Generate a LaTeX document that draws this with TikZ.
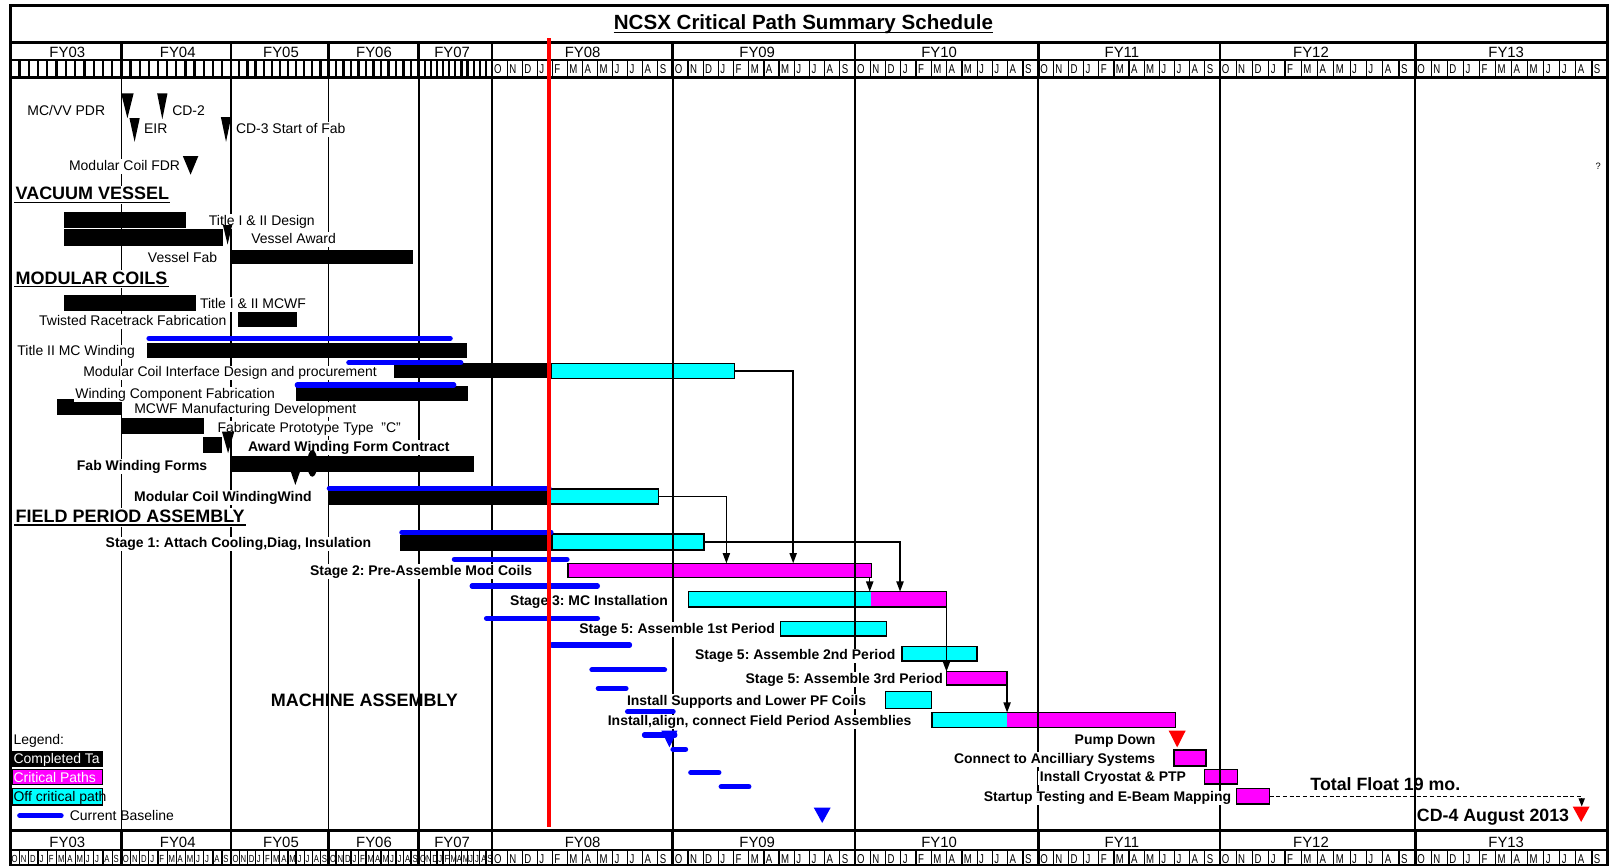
\documentclass[tikz,border=0pt]{standalone}
\usepackage{fontspec}
\setmainfont{Liberation Sans}
\newfontfamily\mfont[FakeStretch=0.75]{Liberation Sans}
\usetikzlibrary{arrows.meta,calc}
\definecolor{cy}{RGB}{0,255,255}
\definecolor{mg}{RGB}{255,0,255}
\definecolor{bl}{RGB}{0,0,255}
\definecolor{rd}{RGB}{255,0,0}
\frenchspacing
\newcommand\fs[1]{\fontsize{#1}{#1}\selectfont}
\newcommand\gbar[6]{\node[#2, anchor=north west, minimum width={(#5-#3)*1pt}, minimum height={(#6-#4)*1pt}] (#1) at (#3,#4) {};}
\newcommand\mstone[5]{\fill[#5] (#1,#3) -- (#2,#3) -- ({(#1+#2)/2},#4) -- cycle;}
\newcommand\bline[3]{\draw[baseln] (#1,#3) -- (#2,#3);}
\begin{document}
\begin{tikzpicture}[x=1pt,y=-1pt,
 blk/.style={fill=black, draw=none, inner sep=0pt, outer sep=0pt},
 cyf/.style={fill=cy, draw=none, inner sep=0pt, outer sep=0pt},
 cyb/.style={fill=cy, draw=black, line width=1.5pt, inner sep=0pt, outer sep=0pt},
 mgb/.style={fill=mg, draw=black, line width=1.5pt, inner sep=0pt, outer sep=0pt},
 lgb/.style={draw=black, line width=1pt, inner sep=0pt, outer sep=0pt},
 lab/.style={fill=white, inner xsep=1.5pt, inner ysep=1pt, text height=9.8pt, text depth=2.5pt, font=\fs{13.6}},
 blab/.style={lab, font=\fs{13.6}\bfseries},
 sect/.style={fill=white, inner sep=1pt, text height=12.6pt, text depth=3pt, font=\fs{17.5}\bfseries, anchor=base west},
 baseln/.style={bl, line width=5pt, line cap=round, shorten <=2.5pt, shorten >=2.5pt},
 gline/.style={line width=1.8pt},
 hline/.style={line width=2.5pt},
 ysepl/.style={line width=2.5pt},
 msep/.style={line width=1.2pt},
 tsep/.style={line width=2.2pt},
 fylab/.style={font=\fs{14.5}, inner sep=0pt, anchor=base},
 mlet/.style={font=\mfont\fs{12.5}, inner sep=0pt, anchor=base west},
 slet/.style={font=\mfont\fs{10}, inner sep=0pt, anchor=base west},
 conn/.style={line width=1.5pt, -{Triangle[length=10pt,width=7pt]}},
 dconn/.style={line width=1.2pt, dash pattern=on 4pt off 2.5pt, -{Triangle[length=8pt,width=6pt]}},
 big/.style={font=\fs{17.3}\bfseries, inner sep=0pt}
]
\useasboundingbox (0,0) rectangle (1568,842);
\fill[white] (0,0) rectangle (1568,842);

% ---------------- bars ----------------
\gbar{vv1}{blk}{62.6}{206}{180.7}{222}
\gbar{vv2}{blk}{62.6}{223}{217}{239}
\gbar{vv3}{blk}{224}{243}{401.5}{257}
\gbar{mc1}{blk}{62.6}{287}{190.5}{302.4}
\gbar{mc2}{blk}{232}{303.4}{289}{318.6}
\gbar{mc3}{blk}{143}{334}{455}{348.8}
\gbar{mc4}{blk}{383}{353.6}{535.5}{368.2}
\gbar{mc4c}{cyb}{536.7}{353.6}{715}{368.2}
\gbar{mc5}{blk}{287.8}{375.7}{455.4}{390}
\gbar{mc6}{blk}{55}{388.7}{118.9}{404}
\gbar{mc7}{blk}{117.5}{407}{198.8}{422.4}
\gbar{mc8}{blk}{197.5}{425}{216.2}{440.6}
\gbar{mc9}{blk}{224}{443.8}{461.6}{459}
\gbar{mc10}{blk}{319}{477.5}{535.5}{491.5}
\gbar{mc10c}{cyb}{536}{476}{641}{490.6}
\gbar{fp1}{blk}{389}{520.5}{535.5}{536}
\gbar{fp1c}{cyb}{537}{519.7}{685}{535.3}
\gbar{fp2}{mgb}{552.7}{548.3}{848.2}{561.9}
\gbar{fp3}{cyf}{670.2}{575.9}{921.2}{591}
\fill[mg] (847.5,575.9) rectangle (921.2,591);
\draw[line width=1.5pt] (fp3.north west) rectangle (fp3.south east);
\gbar{fp4}{cyb}{759.5}{605}{862.7}{619}
\gbar{fp5}{cyb}{877.7}{629.4}{950.7}{643.4}
\gbar{fp6}{mgb}{921.2}{653.7}{980.2}{666.7}
\gbar{fp7}{cyb}{862}{673.2}{906.6}{689.4}
\gbar{fp8}{cyf}{907.2}{693.6}{1144.1}{707.9}
\fill[mg] (980.2,693.6) rectangle (1144.1,707.9);
\draw[line width=1.5pt] (fp8.north west) rectangle (fp8.south east);
\gbar{fp9}{mgb}{1142.8}{730}{1173.9}{745.6}
\gbar{fp10}{mgb}{1172.5}{748.8}{1204.5}{763}
\gbar{fp11}{mgb}{1203.5}{767.3}{1235.7}{782.5}
% legend boxes
\gbar{lg1}{blk}{12}{730.6}{100}{746.2}
\gbar{lg2}{lgb, fill=mg}{12}{748.8}{100}{764}
\gbar{lg3}{lgb, fill=cy}{12}{767.3}{100}{783.5}

% ---------------- grid lines ----------------
\foreach \x in {118.2,225,319.8,407.4,479,654.8,832.2,1010.5,1187.3,1377.5}
  \draw[gline] (\x,75.3) -- (\x,808.5);

% ---------------- labels ----------------
\node[lab, anchor=base east] (lmcvv) at (104,112) {MC/VV PDR};
\node[lab, anchor=base west] (lcd2) at (166,112) {CD-2};
\node[lab, anchor=base west] (leir) at (138.5,130) {EIR};
\node[lab, anchor=base west] (lcd3) at (228,130) {CD-3 Start of Fab};
\node[lab, anchor=base east] (lfdr) at (177,166) {Modular Coil FDR};
\node[font=\fs{9}, inner sep=0pt, anchor=base] (qm) at (1555.5,165) {?};

\node[sect] (svv) at (14,194.5) {VACUUM VESSEL};
\draw[line width=1.6pt] ([yshift=-2.5pt]svv.base west) -- ([yshift=-2.5pt]svv.base east);
\node[lab, anchor=base west] (lvv1) at (201.6,219) {Title I \& II Design};
\node[lab, anchor=base west] (lvv2) at (243,237) {Vessel Award};
\node[lab, anchor=base east] (lvv3) at (213,255.5) {Vessel Fab};

\node[sect] (smc) at (14,276.5) {MODULAR COILS};
\draw[line width=1.6pt] ([yshift=-2.5pt]smc.base west) -- ([yshift=-2.5pt]smc.base east);
\node[lab, anchor=base west] (lmc1) at (193,300) {Title I \& II MCWF};
\node[lab, anchor=base east] (lmc2) at (222,316.5) {Twisted Racetrack Fabrication};
\node[lab, anchor=base east] (lmc3) at (133,346.3) {Title II MC Winding};
\node[lab, anchor=base east] (lmc4) at (368.5,366.7) {Modular Coil Interface Design and procurement};
\node[lab, anchor=base east] (lmc5) at (269.4,387.8) {Winding Component Fabrication};
\node[lab, anchor=base west] (lmc6) at (129,402.4) {MCWF Manufacturing Development};
\node[lab, anchor=base west] (lmc7) at (210,421) {Fabricate Prototype Type\ \ "C"};
\node[blab, anchor=base west] (lmc8) at (239.8,439) {Award Winding Form Contract};
\node[blab, anchor=base east] (lmc9) at (203.4,457.6) {Fab Winding Forms};
\node[blab, anchor=base east] (lmc10) at (305,487.8) {Modular Coil WindingWind};

\node[sect] (sfp) at (14,508.5) {FIELD PERIOD ASSEMBLY};
\draw[line width=1.6pt] ([yshift=-2.5pt]sfp.base west) -- ([yshift=-2.5pt]sfp.base east);
\node[blab, anchor=base east] (lfp1) at (363,533) {Stage 1: Attach Cooling,Diag, Insulation};
\node[blab, anchor=base east] (lfp2) at (519.7,560) {Stage 2: Pre-Assemble Mod Coils};
\node[blab, anchor=base east] (lfp3) at (651.7,589) {Stage 3: MC Installation};
\node[blab, anchor=base east] (lfp4) at (756,616.5) {Stage 5: Assemble 1st Period};
\node[blab, anchor=base east] (lfp5) at (873.2,642) {Stage 5: Assemble 2nd Period};
\node[blab, anchor=base east] (lfp6) at (919.4,665.2) {Stage 5: Assemble 3rd Period};
\node[blab, anchor=base east] (lfp7) at (844.7,686.3) {Install Supports and Lower PF Coils};
\node[blab, anchor=base east] (lfp8) at (888.8,706.4) {Install,align, connect Field Period Assemblies};
\node[blab, anchor=base east] (lpump) at (1126.3,724.6) {Pump Down};
\node[blab, anchor=base east] (lfp9) at (1126,743) {Connect to Ancilliary Systems};
\node[blab, anchor=base east] (lfp10) at (1156,761) {Install Cryostat \& PTP};
\node[blab, anchor=base east] (lfp11) at (1200,780.4) {Startup Testing and E-Beam Mapping};
\node[sect, fill=none] (sma) at (262.4,687.5) {MACHINE ASSEMBLY};
\node[big, anchor=base west] (ltf) at (1275.3,769.5) {Total Float 19 mo.};
\node[big, anchor=base east] (lcd4) at (1527.4,799.5) {CD-4 August 2013};

% legend texts
\node[lab, fill=none, inner xsep=0pt, anchor=base west] (lleg) at (13,725) {Legend:};
\node[lab, fill=none, inner xsep=0pt, text=white, anchor=base west] (lt1) at (13,743.3) {Completed Ta};
\node[lab, fill=none, inner xsep=0pt, text=white, anchor=base west] (lt2) at (13,761.3) {Critical Paths};
\node[lab, fill=none, inner xsep=0pt, anchor=base west] (lt3) at (13,780.3) {Off critical path};
\node[lab, fill=none, inner xsep=0pt, anchor=base west] (lt4) at (67.8,799) {Current Baseline};

% ---------------- baselines ----------------
\bline{142.5}{440.7}{329.3}
\bline{337}{451}{353}
\bline{286.8}{444.2}{374.7}
\bline{318}{537}{475.3}
\bline{388.6}{538.8}{518}
\bline{439.7}{554.4}{544.4}
\bline{457}{584}{570.4}
\bline{471}{584}{601.8}
\bline{534.6}{615.3}{627.8}
\bline{573.6}{649.3}{652}
\bline{579.8}{611.8}{670}
\bline{608.3}{657.7}{692.7}
\bline{624.7}{659.4}{715.4}
\bline{652.5}{669.8}{729.3}
\bline{669.8}{702.2}{752}
\bline{699.4}{731.4}{765.7}
\bline{16.7}{62}{794}

% ---------------- milestones ----------------
\mstone{118}{130}{91}{115}{black}
\mstone{153}{163}{91}{116}{black}
\mstone{126}{136}{115}{138}{black}
\mstone{215}{225}{114}{138}{black}
\mstone{178}{193}{152}{170}{black}
\mstone{217}{226}{219}{238}{black}
\mstone{216}{228}{420}{441}{black}
\mstone{283}{292}{459}{472}{black}
\fill (304,451) ellipse [x radius=5pt, y radius=13pt];
\mstone{643.7}{659.4}{711.2}{727.4}{bl}
\mstone{792}{808.5}{786}{801}{bl}
\mstone{1137.5}{1154}{711.2}{727.4}{rd}
\mstone{1530.7}{1547.2}{785}{800}{rd}

% ---------------- connectors ----------------
\coordinate (k1) at (772,0);
\coordinate (k2) at (707,0);
\coordinate (k3) at (876,0);
\coordinate (k4) at (846.5,0);
\coordinate (cd4) at (1539.5,785);
\draw[conn] (mc4c.east) -| (k1 |- fp2.north);
\draw[conn] (mc10c.east) -| (k2 |- fp2.north);
\draw[conn] (fp1c.east) -| (k3 |- fp3.north);
\draw[conn] (k4 |- fp2.south) -- (k4 |- fp3.north);
\draw[conn] (fp3.south east) -- (fp3.south east |- fp6.north);
\draw[conn] (fp6.south east) -- (fp6.south east |- fp8.north);
\draw[dconn] (fp11.east) -| (cd4);

% ---------------- header / footer ----------------
\node[font=\fs{20}\bfseries, inner sep=0pt, anchor=base] (ttl) at (782,29) {NCSX Critical Path Summary Schedule};
\draw[line width=1.6pt] ([yshift=-2.8pt]ttl.base west) -- ([yshift=-2.8pt]ttl.base east);
\foreach \y in {41.5,58.4,75.3,808.5,827.3} \draw[hline] (10,\y) -- (1565,\y);
\foreach \xa/\xb/\yl/\cx [count=\k] in {10/118.2/FY03/65.5, 118.2/225/FY04/173, 225/319.8/FY05/273.5, 319.8/407.4/FY06/364, 407.4/479/FY07/440, 479/654.8/FY08/567, 654.8/832.2/FY09/737, 832.2/1010.5/FY10/914, 1010.5/1187.3/FY11/1092, 1187.3/1377.5/FY12/1276, 1377.5/1565/FY13/1466}{
  \node[fylab] (fyt\k) at (\cx,55.7) {\yl};
  \node[fylab] (fyb\k) at (\cx,824.7) {\yl};
  \draw[ysepl] (\xb,41.5) -- (\xb,75.3);
  \draw[ysepl] (\xb,808.5) -- (\xb,842);
}
\foreach \xa/\xb [count=\k] in {479/654.8, 654.8/832.2, 832.2/1010.5, 1010.5/1187.3, 1187.3/1377.5, 1377.5/1565}{
  \foreach \m [count=\i from 0] in {O,N,D,J,F,M,A,M,J,J,A,S}{
    \pgfmathsetmacro\xx{\xa+(\xb-\xa)*\i/12}
    \ifnum\i>0 \draw[msep] (\xx,58.4) -- (\xx,75.3); \draw[msep] (\xx,827.3) -- (\xx,842); \fi
    \node[mlet] (mt\k-\i) at (\xx+1.8,72) {\m};
    \node[mlet] (mb\k-\i) at (\xx+1.8,840.3) {\m};
  }
}
\foreach \xa/\xb [count=\k] in {10/118.2, 118.2/225, 225/319.8, 319.8/407.4, 407.4/479}{
  \foreach \m [count=\i from 0] in {O,N,D,J,F,M,A,M,J,J,A,S}{
    \pgfmathsetmacro\xx{\xa+(\xb-\xa)*\i/12}
    \ifnum\i>0 \draw[tsep] (\xx,58.4) -- (\xx,75.3); \draw[msep] (\xx,827.3) -- (\xx,842); \fi
    \node[slet] (sb\k-\i) at (\xx+1.2,839.5) {\m};
  }
}
\draw[line width=3pt] (10,5) rectangle (1565,842);
\draw[hline] (10,41.5) -- (1565,41.5);

% red status line
\draw[rd, line width=4pt] (534.5,37) -- (534.5,804.6);
\end{tikzpicture}
\end{document}
